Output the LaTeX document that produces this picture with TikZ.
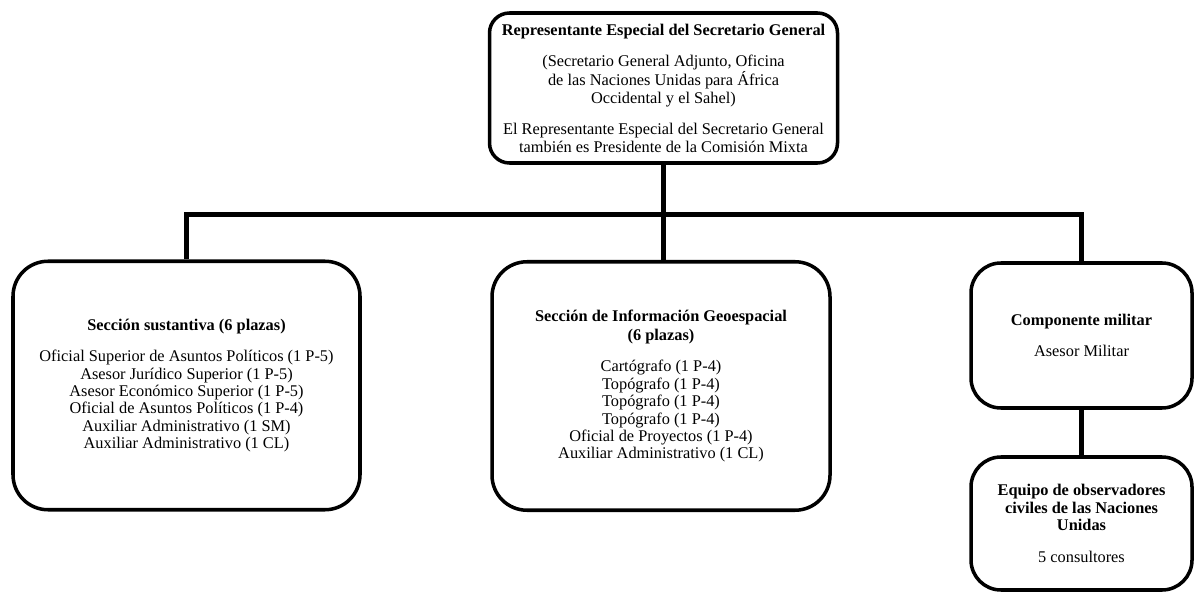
\documentclass[tikz,border=0pt]{standalone}
\usepackage{fontspec}
\setmainfont{Liberation Serif}
\usepackage{xcolor}
\definecolor{orgline}{RGB}{0,0,0}
\usetikzlibrary{positioning, calc}

\begin{document}
\begin{tikzpicture}[
  orgbox/.style={draw=orgline, line width=2pt, fill=white, align=center,
                 font=\fontsize{9.3}{9.9}\selectfont, inner sep=2pt},
  bigbox/.style={orgbox, rounded corners=0.7cm, minimum height=4.97cm},
  sidebox/.style={orgbox, rounded corners=0.6cm, minimum width=4.42cm},
  conn/.style={draw=orgline, line width=3pt}
]
\useasboundingbox (0,0) rectangle (23.88,-12.02);

% --- Head: Special Representative ---
\node[orgbox, rounded corners=0.4cm, minimum width=6.96cm, minimum height=3.0cm]
      (srsg) at (13.27,-1.76) {%
      \textbf{Representante Especial del Secretario General}\\[8pt]
      (Secretario General Adjunto, Oficina\\
      de las Naciones Unidas para África\\
      Occidental y el Sahel)\\[8pt]
      El Representante Especial del Secretario General\\
      también es Presidente de la Comisión Mixta};

% --- Sections ---
\node[bigbox, minimum width=6.94cm] (sustantiva) at (3.73,-7.71) {%
      \textbf{Sección sustantiva (6 plazas)}\\[8pt]
      Oficial Superior de Asuntos Políticos (1 P-5)\\
      Asesor Jurídico Superior (1 P-5)\\
      Asesor Económico Superior (1 P-5)\\
      Oficial de Asuntos Políticos (1 P-4)\\
      Auxiliar Administrativo (1 SM)\\
      Auxiliar Administrativo (1 CL)};

\node[bigbox, minimum width=6.76cm] (geo) at (13.22,-7.72) {%
      \textbf{Sección de Información Geoespacial}\\[1pt]
      \textbf{(6 plazas)}\\[8pt]
      Cartógrafo (1 P-4)\\
      Topógrafo (1 P-4)\\
      Topógrafo (1 P-4)\\
      Topógrafo (1 P-4)\\
      Oficial de Proyectos (1 P-4)\\
      Auxiliar Administrativo (1 CL)};

% --- Military component and observers ---
\node[sidebox, minimum height=2.9cm] (militar) at (21.63,-6.71) {%
      \textbf{Componente militar}\\[8pt]
      Asesor Militar};

\node[sidebox, minimum height=2.66cm] (observ) at (21.63,-10.47) {%
      \textbf{Equipo de observadores}\\
      \textbf{civiles de las Naciones}\\
      \textbf{Unidas}\\[8pt]
      5 consultores};

% Connectors
\coordinate (bus) at ($(srsg.south)+(0,-1.0)$);
\draw[conn] (srsg.south) -- (srsg.south |- geo.north);
\draw[conn] (sustantiva.north) |- (bus) -| (militar.north);
\draw[conn] (militar.south) -- (observ.north);

\end{tikzpicture}
\end{document}
